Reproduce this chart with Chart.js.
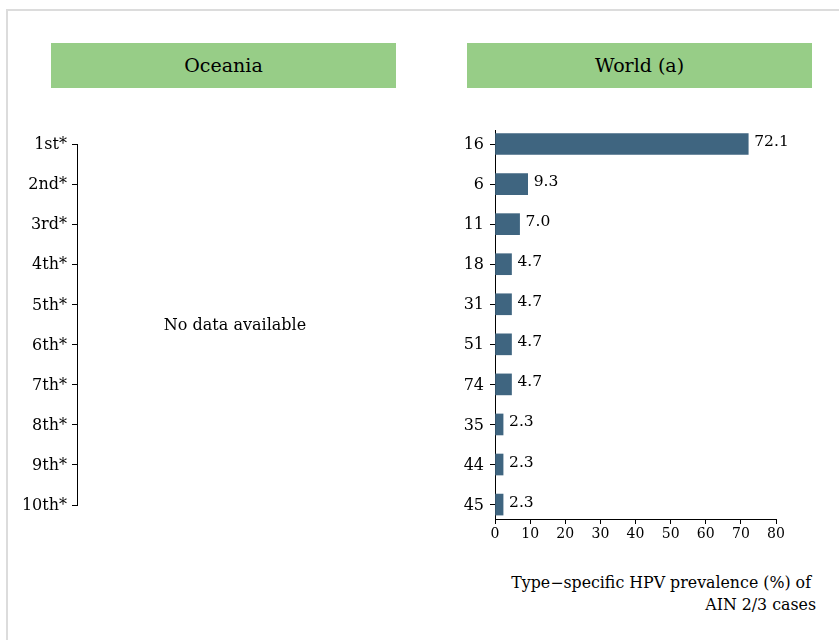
<!DOCTYPE html>
<html>
<head>
<meta charset="utf-8">
<script src="https://cdn.jsdelivr.net/npm/chart.js@4/dist/chart.umd.min.js"></script>
<style>
  html, body { margin: 0; padding: 0; background: #fff; }
  body { width: 839px; height: 640px; position: relative; overflow: hidden; font-family: "DejaVu Serif", serif; color: #000; }
  .frame { position: absolute; left: 6px; top: 9px; width: 900px; height: 700px; border: 2px solid #dcdcdc; box-sizing: border-box; }
  .header { position: absolute; top: 43px; height: 45px; width: 345px; background: #97cd87; font-size: 19px; line-height: 45px; text-align: center; color: #000; }
  .nodata { position: absolute; left: 135px; width: 200px; top: 314px; text-align: center; font-size: 16px; line-height: 22px; }
  .xtitle { position: absolute; right: 23px; top: 572px; text-align: right; font-size: 15.8px; line-height: 22px; }
  canvas { position: absolute; }
</style>
</head>
<body>
<div class="frame"></div>
<div class="header" style="left:51px">Oceania</div>
<div class="header" style="left:467px">World (a)</div>
<canvas id="left" width="420" height="460" style="left:0px;top:100px;width:420px;height:460px"></canvas>
<canvas id="right" width="419" height="460" style="left:420px;top:100px;width:419px;height:460px"></canvas>
<div class="nodata">No data available</div>
<div class="xtitle">Type−specific HPV prevalence (%) of&nbsp;<br>AIN 2/3 cases</div>
<script>
// ---- data ----
const rankLabels = ['1st*', '2nd*', '3rd*', '4th*', '5th*', '6th*', '7th*', '8th*', '9th*', '10th*'];
const hpvTypes = ['16', '6', '11', '18', '31', '51', '74', '35', '44', '45'];
const prevalence = [72.1, 9.3, 7.0, 4.7, 4.7, 4.7, 4.7, 2.3, 2.3, 2.3];
const xMin = 0;
const xMax = 80;
const xStep = 10;

const tickFont = { family: 'DejaVu Serif', size: 16 };
const textColor = '#000';
const barColor = '#3f6580';

const axisGrid = { drawOnChartArea: false, drawTicks: true, tickLength: 5, tickColor: '#000', lineWidth: 1, offset: false };
const axisBorder = { display: true, color: '#000', width: 1 };

// ---- left panel (Oceania, no data) ----
new Chart(document.getElementById('left'), {
  type: 'bar',
  data: { labels: [], datasets: [] },
  options: {
    responsive: false,
    animation: false,
    indexAxis: 'y',
    layout: { padding: { top: 44, bottom: 55, left: 0, right: 20 } },
    plugins: { legend: { display: false }, tooltip: { enabled: false } },
    scales: {
      x: { type: 'linear', display: false, min: 0, max: 1 },
      y: {
        type: 'linear', min: 0, max: rankLabels.length - 1, reverse: true, offset: false,
        afterBuildTicks: (s) => { s.ticks = rankLabels.map((_, i) => ({ value: i })); },
        afterFit: (s) => { s.width = 77; },
        ticks: { autoSkip: false, font: tickFont, color: textColor, padding: 5, labelOffset: 1,
                 callback: (v) => rankLabels[v] },
        grid: axisGrid,
        border: axisBorder
      }
    }
  }
});

// ---- right panel (World) ----
const valueLabels = {
  id: 'valueLabels',
  afterDatasetsDraw(chart) {
    const ctx = chart.ctx;
    const meta = chart.getDatasetMeta(0);
    ctx.save();
    ctx.font = '15.5px "DejaVu Serif"';
    ctx.fillStyle = textColor;
    ctx.textAlign = 'left';
    ctx.textBaseline = 'middle';
    meta.data.forEach((bar, i) => {
      ctx.fillText(prevalence[i].toFixed(1), bar.x + 6, bar.y - 2);
    });
    ctx.restore();
  }
};

new Chart(document.getElementById('right'), {
  type: 'bar',
  data: {
    datasets: [{
      data: prevalence.map((v, i) => ({ x: v, y: i })),
      backgroundColor: barColor,
      borderWidth: 0,
      barThickness: 21
    }]
  },
  options: {
    responsive: false,
    animation: false,
    indexAxis: 'y',
    layout: { padding: { top: 30, bottom: 16, left: 0, right: 63 } },
    plugins: { legend: { display: false }, tooltip: { enabled: false } },
    scales: {
      x: {
        type: 'linear', min: xMin, max: xMax, offset: false,
        afterFit: (s) => { s.height = 25; },
        ticks: { stepSize: xStep, font: { family: 'DejaVu Serif', size: 14 }, color: textColor, padding: 2 },
        grid: axisGrid,
        border: axisBorder
      },
      y: {
        type: 'linear', min: -0.35, max: hpvTypes.length - 1 + 0.36, reverse: true, offset: false,
        afterBuildTicks: (s) => { s.ticks = hpvTypes.map((_, i) => ({ value: i })); },
        afterFit: (s) => { s.width = 75; },
        ticks: { autoSkip: false, font: tickFont, color: textColor, padding: 6, labelOffset: 1,
                 callback: (v) => hpvTypes[v] },
        grid: axisGrid,
        border: axisBorder
      }
    }
  },
  plugins: [valueLabels]
});
</script>
</body>
</html>
